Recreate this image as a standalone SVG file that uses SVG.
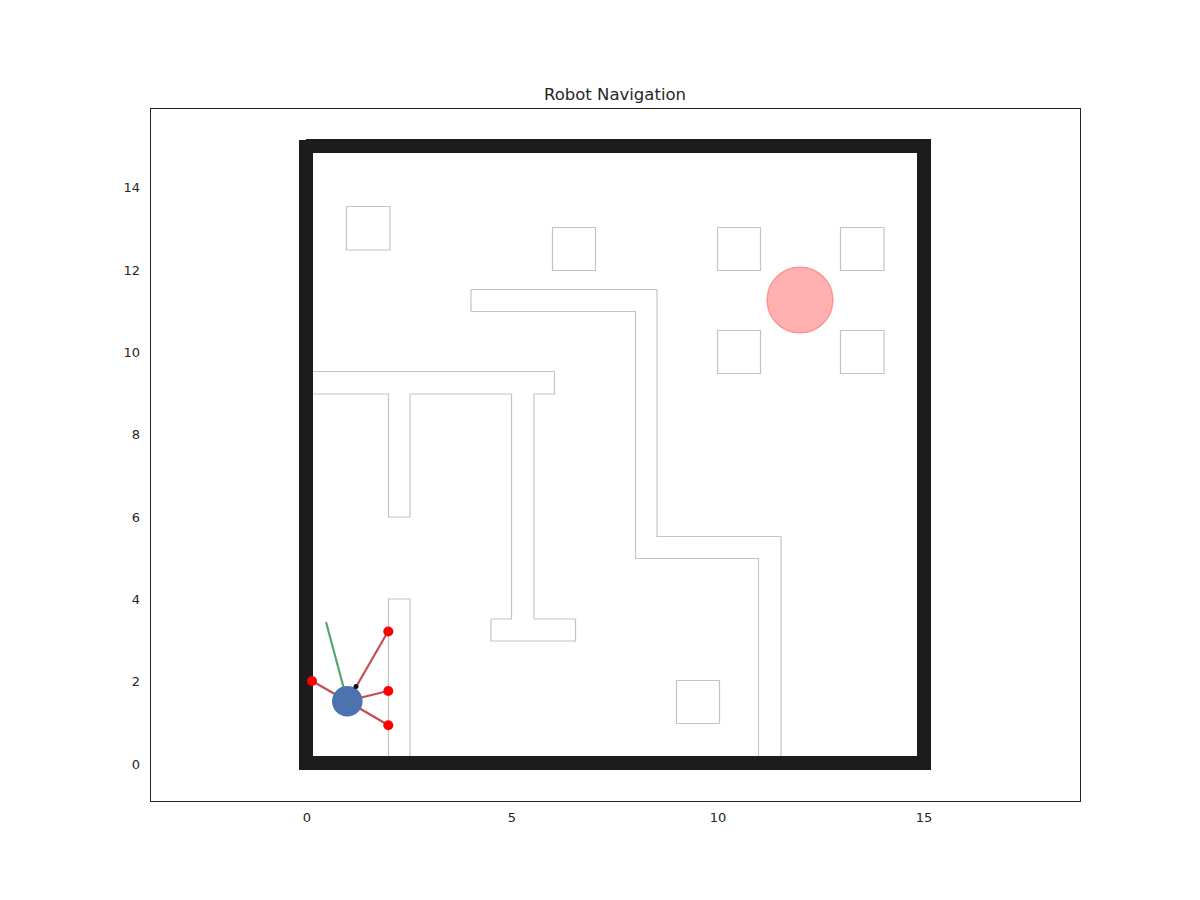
<svg xmlns="http://www.w3.org/2000/svg" width="1200" height="900" viewBox="0 0 1200 900">
<style>
.tick{font-family:"DejaVu Sans",sans-serif;font-size:13px;fill:#262626}
.title{font-family:"DejaVu Sans",sans-serif;font-size:16.5px;fill:#262626}
.wall{fill:#1c1c1c}
.obs{fill:#ffffff;stroke:#c4c4c4;stroke-width:1.2;stroke-linejoin:round}
.ray{stroke:#c44e52;stroke-width:2.2}
.hit{fill:#ff0000}
</style>
<rect width="1200" height="900" fill="#ffffff"/>
<g id="axes">
<rect x="150.5" y="108.5" width="930" height="693" fill="#ffffff" stroke="#262626" stroke-width="1"/>
<text class="title" x="615" y="100" text-anchor="middle">Robot Navigation</text>
<g class="tick" text-anchor="middle">
<text x="307" y="822">0</text>
<text x="512" y="822">5</text>
<text x="718" y="822">10</text>
<text x="924" y="822">15</text>
</g>
<g class="tick" text-anchor="end">
<text x="140" y="192">14</text>
<text x="140" y="275">12</text>
<text x="140" y="357">10</text>
<text x="140" y="439">8</text>
<text x="140" y="522">6</text>
<text x="140" y="604">4</text>
<text x="140" y="686">2</text>
<text x="140" y="769">0</text>
</g>
</g>
<g id="obstacles">
<rect class="obs" x="346.5" y="206.5" width="43.5" height="43.5"/>
<rect class="obs" x="552.5" y="227.5" width="43" height="43"/>
<rect class="obs" x="717.5" y="227.5" width="43" height="43"/>
<rect class="obs" x="840.5" y="227.5" width="43.5" height="43"/>
<rect class="obs" x="717.5" y="330.5" width="43" height="43"/>
<rect class="obs" x="840.5" y="330.5" width="43.5" height="43"/>
<rect class="obs" x="676.5" y="680.5" width="43" height="43"/>
<path id="wall-s" class="obs" d="M471,289.5 H657 V536.5 H781 V757 H758.5 V558.5 H635.5 V311.5 H471 Z"/>
<path id="wall-t" class="obs" d="M310,371.5 H554.5 V394 H534 V619 H575.5 V641 H491 V619 H511.5 V394 H410 V517 H388.5 V394 H310 Z"/>
<rect id="wall-low" class="obs" x="388.5" y="599" width="21.5" height="160"/>
</g>
<g id="boundary">
<rect class="wall" x="306" y="139" width="625" height="14"/>
<rect class="wall" x="299" y="140" width="14" height="630"/>
<rect class="wall" x="299" y="756" width="632" height="14"/>
<rect class="wall" x="917" y="139" width="14" height="631"/>
</g>
<g id="goal">
<circle cx="800" cy="300" r="32.8" fill="#ffb1b1" stroke="#ff9090" stroke-width="1.5"/>
</g>
<g id="connectors">
<line class="ray" x1="347" y1="701" x2="312" y2="681"/>
<line class="ray" x1="356" y1="687" x2="388" y2="631.5"/>
<line class="ray" x1="347" y1="701" x2="388" y2="691"/>
<line class="ray" x1="347" y1="701" x2="388" y2="725"/>
<line x1="326" y1="622" x2="344" y2="689" stroke="#55a868" stroke-width="2.2"/>
</g>
<g id="robot">
<circle cx="347.3" cy="701.3" r="15.3" fill="#4c72b0"/>
<circle cx="356" cy="686.5" r="2.5" fill="#111111"/>
<circle class="hit" cx="312" cy="681" r="5"/>
<circle class="hit" cx="388.3" cy="631.5" r="5"/>
<circle class="hit" cx="388.3" cy="691" r="5"/>
<circle class="hit" cx="388.3" cy="725.3" r="5"/>
</g>
</svg>
